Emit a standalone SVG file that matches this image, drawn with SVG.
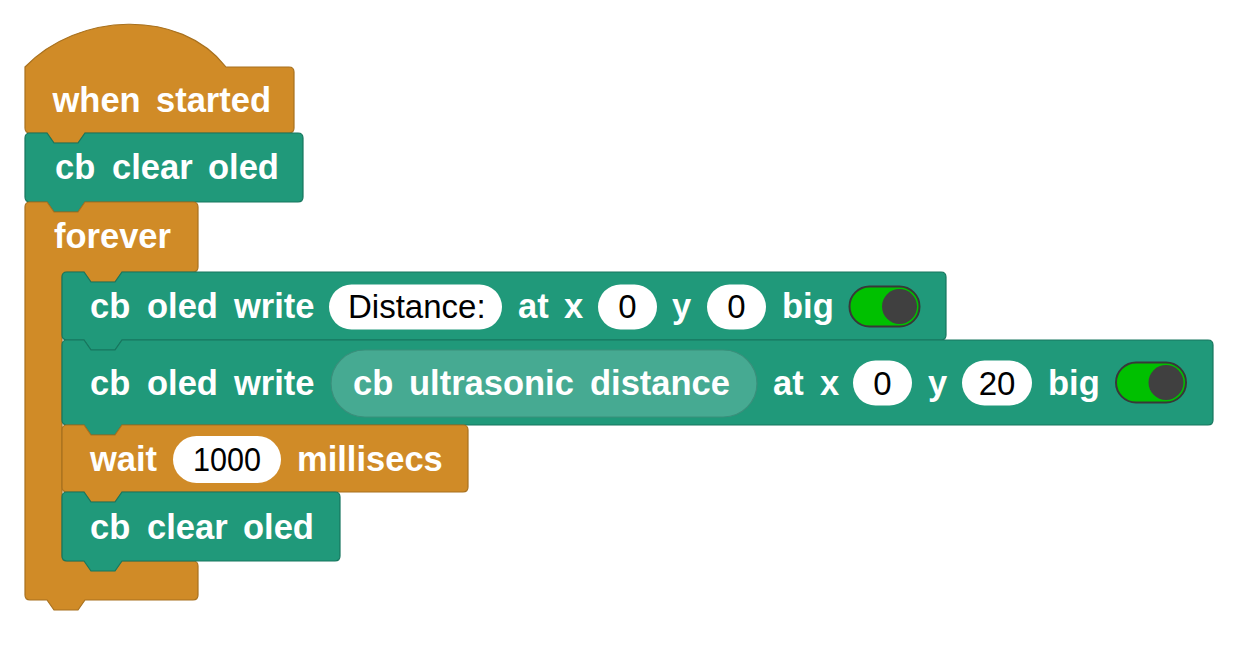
<svg xmlns="http://www.w3.org/2000/svg" width="1255" height="652" viewBox="0 0 1255 652">
<style>
.ev{fill:#d08b27;stroke:#a8711f;stroke-width:1.2}
.tl{fill:#20997a;stroke:#17765e;stroke-width:1.2}
.rp{fill:#46aa92;stroke:#3a8f7b;stroke-width:1.2}
.w{font-family:"Liberation Sans",Arial,sans-serif;font-weight:bold;font-size:34.5px;fill:#ffffff}
.v{font-family:"Liberation Sans",Arial,sans-serif;font-size:33px;fill:#000000}
.pill{fill:#ffffff}
.tg{fill:#00c000;stroke:#383838;stroke-width:2}
.knob{fill:#404040}
</style>
<rect width="1255" height="652" fill="#ffffff"/>
<g id="connectors"></g>

<g id="when-started">
<path class="ev" d="M25,67 C78,12 180,8 226,67 H289 Q294,67 294,72 V128 Q294,133 289,133 H85 L78,143 H54 L47,133 H30 Q25,133 25,128 Z"/>
<text class="w" x="52.5" y="112">when</text>
<text class="w" x="156" y="112">started</text>
</g>

<g id="clear-oled-1">
<path class="tl" d="M25,138 Q25,133 30,133 H47 L54,143 H78 L85,133 H298 Q303,133 303,138 V197 Q303,202 298,202 H85 L78,212 H54 L47,202 H30 Q25,202 25,197 Z"/>
<text class="w" x="55" y="179">cb</text>
<text class="w" x="112" y="179">clear</text>
<text class="w" x="208" y="179">oled</text>
</g>

<g id="forever">
<path class="ev" d="M25,207 Q25,202 30,202 H47 L54,212 H78 L85,202 H193 Q198,202 198,207 V267 Q198,272 193,272 H122 L115,282 H91 L84,272 H67 Q62,272 62,277 V556 Q62,561 67,561 H193 Q198,561 198,566 V595 Q198,600 193,600 H85 L78,610 H54 L47,600 H30 Q25,600 25,595 Z"/>
<text class="w" x="54" y="248">forever</text>
</g>

<g id="oled-write-1">
<path class="tl" d="M62,277 Q62,272 67,272 H84 L91,282 H115 L122,272 H941 Q946,272 946,277 V335 Q946,340 941,340 H122 L115,350 H91 L84,340 H67 Q62,340 62,335 Z"/>
<text class="w" x="90" y="318">cb</text>
<text class="w" x="147" y="318">oled</text>
<text class="w" x="234" y="318">write</text>
<rect class="pill" x="329" y="284.5" width="173" height="45" rx="22.5"/>
<text class="v" x="348" y="318">Distance:</text>
<text class="w" x="518" y="318">at</text>
<text class="w" x="564" y="318">x</text>
<rect class="pill" x="598" y="284.5" width="59" height="45" rx="22.5"/>
<text class="v" x="627.5" y="318" text-anchor="middle">0</text>
<text class="w" x="672" y="318">y</text>
<rect class="pill" x="707" y="284.5" width="59" height="45" rx="22.5"/>
<text class="v" x="736.5" y="318" text-anchor="middle">0</text>
<text class="w" x="782" y="318">big</text>
<rect class="tg" x="849.5" y="286.5" width="70" height="40" rx="20"/>
<circle class="knob" cx="899.5" cy="306.5" r="17.5"/>
</g>

<g id="oled-write-2">
<path class="tl" d="M62,345 Q62,340 67,340 H84 L91,350 H115 L122,340 H1208 Q1213,340 1213,345 V420 Q1213,425 1208,425 H122 L115,435 H91 L84,425 H67 Q62,425 62,420 Z"/>
<text class="w" x="90" y="395">cb</text>
<text class="w" x="147" y="395">oled</text>
<text class="w" x="234" y="395">write</text>
<g id="ultrasonic-distance">
<rect class="rp" x="331" y="350" width="426" height="67" rx="33.5"/>
<text class="w" x="353" y="395">cb</text>
<text class="w" x="409" y="395">ultrasonic</text>
<text class="w" x="590" y="395">distance</text>
</g>
<text class="w" x="773" y="395">at</text>
<text class="w" x="820" y="395">x</text>
<rect class="pill" x="853" y="360.5" width="59" height="45" rx="22.5"/>
<text class="v" x="882.5" y="395" text-anchor="middle">0</text>
<text class="w" x="928" y="395">y</text>
<rect class="pill" x="962" y="360.5" width="70" height="45" rx="22.5"/>
<text class="v" x="997" y="395" text-anchor="middle">20</text>
<text class="w" x="1048" y="395">big</text>
<rect class="tg" x="1116" y="362.5" width="70" height="40" rx="20"/>
<circle class="knob" cx="1166" cy="382.5" r="17.5"/>
</g>

<g id="wait">
<path class="ev" d="M62,430 Q62,425 67,425 H84 L91,435 H115 L122,425 H463 Q468,425 468,430 V487 Q468,492 463,492 H122 L115,502 H91 L84,492 H67 Q62,492 62,487 Z"/>
<text class="w" x="90" y="471">wait</text>
<rect class="pill" x="173" y="436" width="108" height="47" rx="23.5"/>
<text class="v" x="193" y="471" textLength="68" lengthAdjust="spacingAndGlyphs">1000</text>
<text class="w" x="297" y="471">millisecs</text>
</g>

<g id="clear-oled-2">
<path class="tl" d="M62,497 Q62,492 67,492 H84 L91,502 H115 L122,492 H335 Q340,492 340,497 V556 Q340,561 335,561 H122 L115,571 H91 L84,561 H67 Q62,561 62,556 Z"/>
<text class="w" x="90" y="539">cb</text>
<text class="w" x="147" y="539">clear</text>
<text class="w" x="243" y="539">oled</text>
</g>
</svg>
